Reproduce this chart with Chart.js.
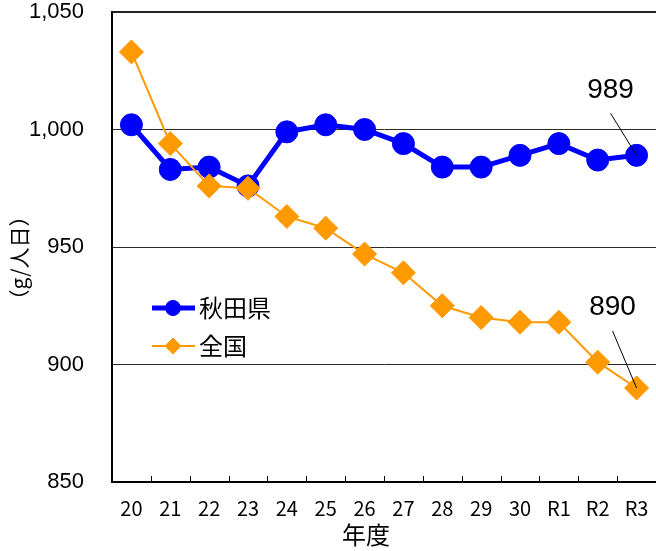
<!DOCTYPE html>
<html>
<head>
<meta charset="utf-8">
<script src="https://cdn.jsdelivr.net/npm/chart.js@4/dist/chart.umd.min.js"></script>
<style>
  html, body { margin: 0; padding: 0; background: #fff; }
  #wrap { width: 656px; height: 551px; }
</style>
</head>
<body>
<div id="wrap"><canvas id="c" width="656" height="551"></canvas></div>
<script>
// 年度ラベル (平成20〜30年度, 令和元〜3年度)
const years = ['20', '21', '22', '23', '24', '25', '26', '27', '28', '29', '30', 'R1', 'R2', 'R3'];
// 1人1日当たりのごみ排出量 (g/人日)
const akita = [1002, 983, 984, 976, 999, 1002, 1000, 994, 984, 984, 989, 994, 987, 989];
const zenkoku = [1033, 994, 976, 975, 963, 958, 947, 939, 925, 920, 918, 918, 901, 890];
const yTicks = [850, 900, 950, 1000, 1050];

const BLUE = '#0000FF';
const ORANGE = '#FF9900';
const JP = '"Noto Sans CJK JP", "Noto Sans", sans-serif';
const SANS = '"Liberation Sans", Arial, sans-serif';

// 軸の目盛り・タイトル・凡例・最終年度の注記
const decorations = {
  id: 'decorations',
  afterDatasetsDraw(chart) {
    const ctx = chart.ctx;
    const area = chart.chartArea;
    ctx.save();

    // x軸の内向き目盛り (区切り位置)
    const w = (area.right - area.left) / years.length;
    ctx.strokeStyle = '#000';
    ctx.lineWidth = 1;
    ctx.beginPath();
    for (let i = 1; i < years.length; i++) {
      const px = Math.round(area.left + i * w) + 0.5;
      ctx.moveTo(px, area.bottom);
      ctx.lineTo(px, area.bottom - 6);
    }
    ctx.stroke();

    // 軸タイトル
    ctx.fillStyle = '#000';
    ctx.font = '24px ' + JP;
    ctx.textAlign = 'center';
    ctx.textBaseline = 'middle';
    ctx.fillText('年度', 366, 535);

    ctx.save();
    ctx.translate(19, 258);
    ctx.rotate(-Math.PI / 2);
    ctx.font = '21px ' + JP;
    ctx.fillText('（g/人日）', 0, 0);
    ctx.restore();

    // 凡例
    const legend = [
      { label: '秋田県', color: BLUE, lw: 5, style: 'circle', r: 7.5, y: 308 },
      { label: '全国', color: ORANGE, lw: 2, style: 'rectRot', r: 8, y: 346 }
    ];
    legend.forEach(item => {
      ctx.strokeStyle = item.color;
      ctx.lineWidth = item.lw;
      ctx.beginPath();
      ctx.moveTo(152, item.y);
      ctx.lineTo(195, item.y);
      ctx.stroke();
      ctx.fillStyle = item.color;
      ctx.lineWidth = 1;
      Chart.helpers.drawPoint(ctx, { pointStyle: item.style, radius: item.r, borderWidth: 1 }, 173, item.y);
      ctx.fill();
      ctx.fillStyle = '#000';
      ctx.font = '24px ' + JP;
      ctx.textAlign = 'left';
      ctx.textBaseline = 'middle';
      ctx.fillText(item.label, 199, item.y);
    });

    // 最終年度の値の注記
    const last = years.length - 1;
    const notes = [
      { ds: 0, value: akita[last], dx: -26, textDy: -65, lineDy: -42 },
      { ds: 1, value: zenkoku[last], dx: -24, textDy: -81, lineDy: -57 }
    ];
    notes.forEach(n => {
      const pt = chart.getDatasetMeta(n.ds).data[last];
      ctx.strokeStyle = '#000';
      ctx.lineWidth = 1;
      ctx.beginPath();
      ctx.moveTo(pt.x + n.dx, pt.y + n.lineDy);
      ctx.lineTo(pt.x, pt.y);
      ctx.stroke();
      ctx.fillStyle = '#000';
      ctx.font = '28px ' + SANS;
      ctx.textAlign = 'center';
      ctx.textBaseline = 'middle';
      ctx.fillText(String(n.value), pt.x + n.dx, pt.y + n.textDy);
    });

    ctx.restore();
  }
};

new Chart(document.getElementById('c'), {
  type: 'line',
  data: {
    labels: years,
    datasets: [
      {
        label: '秋田県',
        data: akita,
        borderColor: BLUE,
        backgroundColor: BLUE,
        borderWidth: 5,
        pointStyle: 'circle',
        pointRadius: 11,
        pointBorderWidth: 1,
        pointBackgroundColor: BLUE,
        pointBorderColor: BLUE,
        tension: 0,
        order: 1,
        clip: false
      },
      {
        label: '全国',
        data: zenkoku,
        borderColor: ORANGE,
        backgroundColor: ORANGE,
        borderWidth: 2,
        pointStyle: 'rectRot',
        pointRadius: 12,
        pointBorderWidth: 1,
        pointBackgroundColor: ORANGE,
        pointBorderColor: ORANGE,
        tension: 0,
        order: 0,
        clip: false
      }
    ]
  },
  options: {
    responsive: false,
    animation: false,
    events: [],
    layout: { autoPadding: false, padding: { top: 12, left: 0, right: 0, bottom: 0 } },
    plugins: {
      legend: { display: false },
      tooltip: { enabled: false },
      title: { display: false }
    },
    scales: {
      x: {
        type: 'category',
        offset: true,
        grid: { display: true, drawOnChartArea: false, drawTicks: false, offset: true },
        border: { display: true, color: '#000', width: 2 },
        ticks: {
          color: '#000',
          font: { family: JP, size: 20 },
          padding: 14,
          maxRotation: 0,
          autoSkip: false
        },
        afterFit(scale) {
          scale.height = 69;
          scale.paddingLeft = 0;
          scale.paddingRight = 0;
        }
      },
      y: {
        min: yTicks[0],
        max: yTicks[yTicks.length - 1],
        afterBuildTicks(scale) { scale.ticks = yTicks.map(v => ({ value: v })); },
        grid: {
          color: ctx => (ctx.tick && ctx.tick.value === 1050) ? '#222' : '#2a2a2a',
          lineWidth: ctx => (ctx.tick && ctx.tick.value === 1050) ? 2 : 1,
          drawTicks: false
        },
        border: { display: true, color: '#000', width: 2 },
        ticks: {
          color: '#000',
          font: { family: SANS, size: 22 },
          padding: 28,
          callback: v => Number(v).toLocaleString('en-US')
        },
        afterFit(scale) {
          scale.width = 112;
          scale.paddingTop = 0;
          scale.paddingBottom = 0;
        }
      }
    }
  },
  plugins: [decorations]
});
</script>
</body>
</html>
